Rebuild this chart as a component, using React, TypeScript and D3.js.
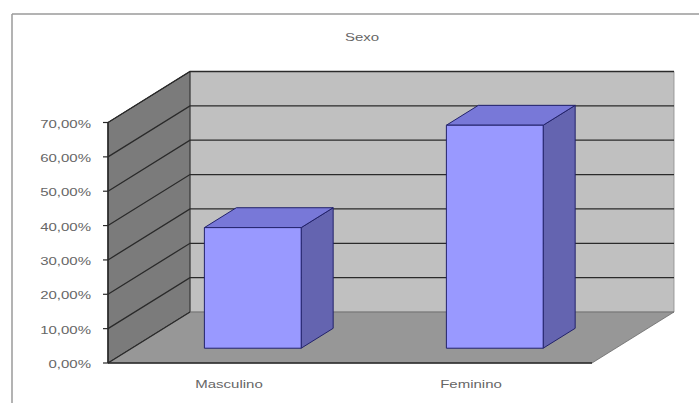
import React from "react";
import * as d3 from "d3";

const title = "Sexo";
const categories = ["Masculino", "Feminino"];
const values = [35.1, 64.9];
const yTicks = [0, 10, 20, 30, 40, 50, 60, 70];
const tickLabels = ["0,00%", "10,00%", "20,00%", "30,00%", "40,00%", "50,00%", "60,00%", "70,00%"];

const W = 699;
const H = 403;

// plot box: front-left corner of the floor, width of the floor, and depth offset
const X0 = 108;
const FLOOR_W = 484;
const DEPTH_X = 82;
const DEPTH_Y = -51;
const BAR_Z0 = 0.29;
const BAR_Z1 = 0.68;
const STRETCH = 1.5;

const yScale = d3.scaleLinear().domain([0, 70]).range([363, 122.5]);
const xBand = d3
  .scaleBand<string>()
  .domain(categories)
  .range([0, FLOOR_W])
  .paddingInner(0.6)
  .paddingOuter(0.3);

// oblique projection: x along floor, v as value, z as depth (0 front, 1 back)
const P = (x: number, v: number, z: number): [number, number] => [
  X0 + x + DEPTH_X * z,
  yScale(v) + DEPTH_Y * z,
];

const poly = (pts: [number, number][]) => pts.map((p) => p.join(",")).join(" ");

const Label = ({ x, y, anchor, children }: any) => (
  <text
    transform={`translate(${x},${y}) scale(${STRETCH},1)`}
    textAnchor={anchor}
    fontFamily="'Liberation Sans', Arial, sans-serif"
    fontSize={10}
    fill="#666"
  >
    {children}
  </text>
);

export default function App() {
  const vMax = 70;
  const backWall = [P(0, 0, 1), P(FLOOR_W, 0, 1), P(FLOOR_W, vMax, 1), P(0, vMax, 1)] as [number, number][];
  const sideWall = [P(0, 0, 0), P(0, 0, 1), P(0, vMax, 1), P(0, vMax, 0)] as [number, number][];
  const floor = [P(0, 0, 0), P(FLOOR_W, 0, 0), P(FLOOR_W, 0, 1), P(0, 0, 1)] as [number, number][];
  const edge = "#2a2a2a";

  return (
    <svg
      width={W}
      height={H}
      style={{ position: "absolute", left: 0, top: 0, background: "#fff" }}
    >
      {/* chart frame */}
      <line x1={12} y1={14} x2={W} y2={14} stroke="#9a9a9a" strokeWidth={1.5} />
      <line x1={12} y1={14} x2={12} y2={H} stroke="#9a9a9a" strokeWidth={1.5} />

      <Label x={362} y={41} anchor="middle">{title}</Label>

      {/* walls and floor */}
      <polygon points={poly(backWall)} fill="#c0c0c0" stroke="#8a8a8a" strokeWidth={0.8} />
      <polygon points={poly(sideWall)} fill="#7b7b7b" stroke={edge} strokeWidth={1} />
      <polygon points={poly(floor)} fill="#979797" stroke="#6a6a6a" strokeWidth={0.8} />

      {/* gridlines over the side wall and back wall */}
      {yTicks.map((t) => {
        const a = P(0, t, 0);
        const b = P(0, t, 1);
        const c = P(FLOOR_W, t, 1);
        return (
          <polyline
            key={t}
            points={poly(t === 0 ? [a, b] : [a, b, c])}
            fill="none"
            stroke={edge}
            strokeWidth={1.3}
          />
        );
      })}

      {/* floor front edge and axis */}
      <line x1={X0} y1={yScale(0)} x2={X0 + FLOOR_W} y2={yScale(0)} stroke={edge} strokeWidth={1.5} />
      <line x1={X0} y1={yScale(0)} x2={X0} y2={yScale(vMax)} stroke={edge} strokeWidth={1.5} />

      {/* ticks and labels */}
      {yTicks.map((t, i) => (
        <g key={t}>
          <line x1={X0 - 5} x2={X0} y1={yScale(t)} y2={yScale(t)} stroke={edge} strokeWidth={1.2} />
          <Label x={91} y={yScale(t) + 5} anchor="end">{tickLabels[i]}</Label>
        </g>
      ))}

      {/* columns */}
      {categories.map((cat, i) => {
        const x0 = xBand(cat)!;
        const x1 = x0 + xBand.bandwidth();
        const v = values[i];
        const front = [P(x0, 0, BAR_Z0), P(x1, 0, BAR_Z0), P(x1, v, BAR_Z0), P(x0, v, BAR_Z0)];
        const top = [P(x0, v, BAR_Z0), P(x1, v, BAR_Z0), P(x1, v, BAR_Z1), P(x0, v, BAR_Z1)];
        const side = [P(x1, 0, BAR_Z0), P(x1, 0, BAR_Z1), P(x1, v, BAR_Z1), P(x1, v, BAR_Z0)];
        return (
          <g key={cat} stroke="#22226a" strokeWidth={1} strokeLinejoin="round">
            <polygon points={poly(side as any)} fill="#6464b0" />
            <polygon points={poly(top as any)} fill="#7878d8" />
            <polygon points={poly(front as any)} fill="#9999ff" />
          </g>
        );
      })}

      {/* category labels, centred on each category along the floor's front edge */}
      {categories.map((cat) => (
        <Label key={cat} x={X0 + xBand(cat)! + xBand.bandwidth() / 2} y={388} anchor="middle">
          {cat}
        </Label>
      ))}
    </svg>
  );
}
